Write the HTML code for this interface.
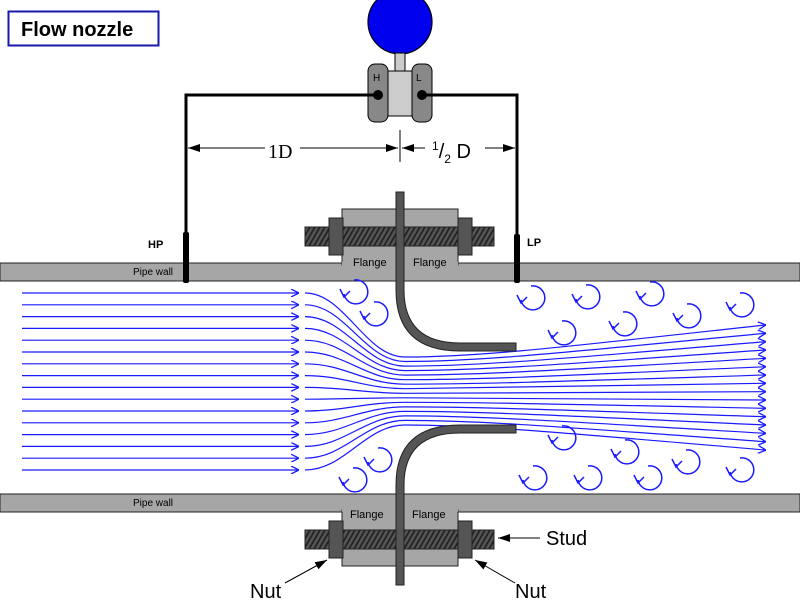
<!DOCTYPE html>
<html><head><meta charset="utf-8"><style>html,body{margin:0;padding:0;background:#fff}svg{display:block}</style></head><body>
<svg width="800" height="600" viewBox="0 0 800 600" xmlns="http://www.w3.org/2000/svg" font-family="Liberation Sans, sans-serif">
<defs>
<marker id="ab" markerWidth="8" markerHeight="8" refX="7" refY="4" orient="auto" markerUnits="userSpaceOnUse"><path d="M0,0 L8,4 L0,8" fill="none" stroke="#1a1aff" stroke-width="1.3"/></marker>
<marker id="ak" markerWidth="12" markerHeight="8" refX="12" refY="4" orient="auto" markerUnits="userSpaceOnUse"><path d="M0,0 L12,4 L0,8 Z" fill="#000"/></marker>
<pattern id="thr" width="5" height="20" patternUnits="userSpaceOnUse" patternTransform="skewX(-30)"><rect width="5" height="20" fill="#555"/><rect width="2" height="20" fill="#222"/></pattern>
<g id="ed"><path d="M-2,-12 A12,12 0 1 1 -12,2" fill="none" stroke="#1a1aff" stroke-width="1.5"/><path d="M-16,-3 L-12,5 L-6,-1" fill="none" stroke="#1a1aff" stroke-width="1.5"/></g>
</defs>
<rect x="8.5" y="11.5" width="150" height="34" fill="#fff" stroke="#1a1aaa" stroke-width="2"/>
<text x="21" y="36" font-size="20" font-weight="bold">Flow nozzle</text>
<circle cx="400" cy="22" r="32" fill="#0000ee" stroke="#000" stroke-width="1.2"/>
<rect x="395" y="53" width="10" height="18" fill="#ccc" stroke="#000"/>
<rect x="387" y="71" width="26" height="45" fill="#ccc" stroke="#000"/>
<rect x="368" y="64" width="20" height="58" rx="7" fill="#888" stroke="#000"/>
<rect x="412" y="64" width="20" height="58" rx="7" fill="#888" stroke="#000"/>
<text x="373" y="81" font-size="10">H</text><text x="416" y="81" font-size="10">L</text>
<polyline points="378,95 186,95 186,283" fill="none" stroke="#000" stroke-width="3"/>
<polyline points="422,95 517,95 517,283" fill="none" stroke="#000" stroke-width="3"/>
<circle cx="378" cy="95" r="5"/><circle cx="422" cy="95" r="5"/>
<line x1="400" y1="130" x2="400" y2="162" stroke="#000"/>
<line x1="300" y1="148" x2="398" y2="148" stroke="#000" marker-end="url(#ak)"/>
<line x1="265" y1="148" x2="188" y2="148" stroke="#000" marker-end="url(#ak)"/>
<text x="268" y="158" font-size="20" font-family="Liberation Serif, serif">1D</text>
<line x1="425" y1="148" x2="402" y2="148" stroke="#000" marker-end="url(#ak)"/>
<line x1="485" y1="148" x2="515" y2="148" stroke="#000" marker-end="url(#ak)"/>
<text x="432" y="158" font-size="20"><tspan font-size="12" dy="-8">1</tspan><tspan dy="8">/</tspan><tspan font-size="12" dy="5">2</tspan><tspan dy="-5"> D</tspan></text>
<rect x="0" y="263" width="800" height="18" fill="#a6a6a6" stroke="#222"/>
<rect x="0" y="494" width="800" height="18" fill="#a6a6a6" stroke="#222"/>
<text x="133" y="275" font-size="10">Pipe wall</text>
<text x="133" y="506" font-size="10">Pipe wall</text>
<rect x="342" y="209" width="116" height="56" fill="#a6a6a6" stroke="#222"/>
<rect x="342" y="262" width="116" height="4" fill="#a6a6a6"/>
<rect x="305" y="227" width="189" height="19" fill="url(#thr)" stroke="#222"/>
<rect x="329" y="218" width="14" height="37" fill="#555" stroke="#222"/>
<rect x="458" y="218" width="14" height="37" fill="#555" stroke="#222"/>
<text x="353" y="266" font-size="11">Flange</text><text x="413" y="266" font-size="11">Flange</text>
<rect x="342" y="510" width="116" height="56" fill="#a6a6a6" stroke="#222"/>
<rect x="342" y="508" width="116" height="4" fill="#a6a6a6"/>
<rect x="305" y="530" width="189" height="19" fill="url(#thr)" stroke="#222"/>
<rect x="329" y="521" width="14" height="37" fill="#555" stroke="#222"/>
<rect x="458" y="521" width="14" height="37" fill="#555" stroke="#222"/>
<text x="350" y="518" font-size="11">Flange</text><text x="412" y="518" font-size="11">Flange</text>
<rect x="183" y="232" width="6" height="51" rx="2" fill="#000"/>
<rect x="514" y="234" width="6" height="49" rx="2" fill="#000"/>
<text x="148" y="248" font-size="11" font-weight="bold">HP</text>
<text x="527" y="246" font-size="11" font-weight="bold">LP</text>
<g fill="none" stroke="#1a1aff" stroke-width="1.2">
<line x1="22" y1="293" x2="298" y2="293" marker-end="url(#ab)"/><path d="M305,293 C345,293 365,357 405,357 C480,357 560,347.4 765,325" marker-end="url(#ab)"/>
<line x1="22" y1="304.8" x2="298" y2="304.8" marker-end="url(#ab)"/><path d="M305,304.8 C345,304.8 365,361.5 405,361.5 C480,361.5 560,352.8 765,333.3" marker-end="url(#ab)"/>
<line x1="22" y1="316.6" x2="298" y2="316.6" marker-end="url(#ab)"/><path d="M305,316.6 C345,316.6 365,366.1 405,366.1 C480,366.1 560,358.8 765,341.7" marker-end="url(#ab)"/>
<line x1="22" y1="328.4" x2="298" y2="328.4" marker-end="url(#ab)"/><path d="M305,328.4 C345,328.4 365,370.6 405,370.6 C480,370.6 560,364.4 765,350" marker-end="url(#ab)"/>
<line x1="22" y1="340.2" x2="298" y2="340.2" marker-end="url(#ab)"/><path d="M305,340.2 C345,340.2 365,375.1 405,375.1 C480,375.1 560,370 765,358.3" marker-end="url(#ab)"/>
<line x1="22" y1="352" x2="298" y2="352" marker-end="url(#ab)"/><path d="M305,352 C345,352 365,379.7 405,379.7 C480,379.7 560,375.8 765,366.7" marker-end="url(#ab)"/>
<line x1="22" y1="363.8" x2="298" y2="363.8" marker-end="url(#ab)"/><path d="M305,363.8 C345,363.8 365,384.2 405,384.2 C480,384.2 560,381.4 765,375" marker-end="url(#ab)"/>
<line x1="22" y1="375.6" x2="298" y2="375.6" marker-end="url(#ab)"/><path d="M305,375.6 C345,375.6 365,388.7 405,388.7 C480,388.7 560,387 765,383.3" marker-end="url(#ab)"/>
<line x1="22" y1="387.4" x2="298" y2="387.4" marker-end="url(#ab)"/><path d="M305,387.4 C345,387.4 365,393.3 405,393.3 C480,393.3 560,392.8 765,391.7" marker-end="url(#ab)"/>
<line x1="22" y1="399.2" x2="298" y2="399.2" marker-end="url(#ab)"/><path d="M305,399.2 C345,399.2 365,397.8 405,397.8 C480,397.8 560,398.5 765,400" marker-end="url(#ab)"/>
<line x1="22" y1="411" x2="298" y2="411" marker-end="url(#ab)"/><path d="M305,411 C345,411 365,402.3 405,402.3 C480,402.3 560,404.1 765,408.3" marker-end="url(#ab)"/>
<line x1="22" y1="422.8" x2="298" y2="422.8" marker-end="url(#ab)"/><path d="M305,422.8 C345,422.8 365,406.9 405,406.9 C480,406.9 560,410 765,416.7" marker-end="url(#ab)"/>
<line x1="22" y1="434.6" x2="298" y2="434.6" marker-end="url(#ab)"/><path d="M305,434.6 C345,434.6 365,411.4 405,411.4 C480,411.4 560,415.5 765,425" marker-end="url(#ab)"/>
<line x1="22" y1="446.4" x2="298" y2="446.4" marker-end="url(#ab)"/><path d="M305,446.4 C345,446.4 365,415.9 405,415.9 C480,415.9 560,421.1 765,433.3" marker-end="url(#ab)"/>
<line x1="22" y1="458.2" x2="298" y2="458.2" marker-end="url(#ab)"/><path d="M305,458.2 C345,458.2 365,420.4 405,420.4 C480,420.4 560,426.8 765,441.7" marker-end="url(#ab)"/>
<line x1="22" y1="470" x2="298" y2="470" marker-end="url(#ab)"/><path d="M305,470 C345,470 365,425 405,425 C480,425 560,432.5 765,450" marker-end="url(#ab)"/>
</g>
<path d="M396,192 H404 V290 Q404,343 460,343 H516 V351 H460 Q396,351 396,290 Z" fill="#555" stroke="#222"/>
<path d="M396,585 H404 V485 Q404,433 460,433 H516 V425 H460 Q396,425 396,485 Z" fill="#555" stroke="#222"/>
<line x1="540" y1="538" x2="498" y2="538" stroke="#000" marker-end="url(#ak)"/>
<text x="546" y="545" font-size="20">Stud</text>
<line x1="285" y1="583" x2="327" y2="560" stroke="#000" marker-end="url(#ak)"/>
<text x="250" y="598" font-size="20">Nut</text>
<line x1="515" y1="583" x2="475" y2="560" stroke="#000" marker-end="url(#ak)"/>
<text x="515" y="598" font-size="20">Nut</text>
<g>
<use href="#ed" x="356" y="292"/><use href="#ed" x="376" y="314"/><use href="#ed" x="533" y="298"/><use href="#ed" x="588" y="297"/><use href="#ed" x="652" y="294"/><use href="#ed" x="742" y="305"/><use href="#ed" x="564" y="333"/><use href="#ed" x="625" y="324"/><use href="#ed" x="689" y="316"/>
<use href="#ed" x="380" y="460"/><use href="#ed" x="355" y="480"/><use href="#ed" x="564" y="438"/><use href="#ed" x="590" y="478"/><use href="#ed" x="627" y="452"/><use href="#ed" x="688" y="462"/><use href="#ed" x="742" y="470"/><use href="#ed" x="650" y="478"/><use href="#ed" x="535" y="478"/>
</g>
</svg>
</body></html>
